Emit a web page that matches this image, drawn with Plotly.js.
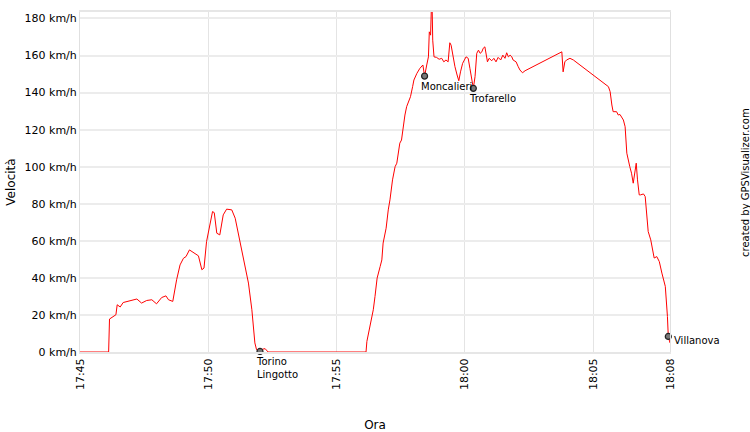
<!DOCTYPE html>
<html>
<head>
<meta charset="utf-8">
<script src="https://cdn.plot.ly/plotly-3.0.1.min.js"></script>
<style>html,body{margin:0;padding:0;background:#fff;}#chart{width:750px;height:432px;}</style>
</head>
<body>
<div id="chart"></div>
<script>
// Speed trace (time, km/h)
var times = [
"17:45:00","17:46:07","17:46:09","17:46:24","17:46:27","17:46:34","17:46:41","17:46:57","17:47:13","17:47:24",
"17:47:36","17:47:48","17:47:59","17:48:11","17:48:21","17:48:27","17:48:37","17:48:46","17:48:54","17:49:02",
"17:49:08","17:49:16","17:49:25","17:49:37","17:49:45","17:49:50","17:49:56","17:50:04","17:50:10","17:50:14",
"17:50:20","17:50:27","17:50:35","17:50:43","17:50:55","17:51:03","17:51:10","17:51:22","17:51:34","17:51:42",
"17:51:49","17:51:53","17:52:01","17:52:07","17:52:13","17:52:20","17:56:09","17:56:11","17:56:18","17:56:26",
"17:56:30","17:56:35","17:56:42","17:56:46","17:56:49","17:56:56","17:57:01","17:57:05","17:57:11","17:57:17",
"17:57:21","17:57:25","17:57:28","17:57:32","17:57:36","17:57:40","17:57:44","17:57:50","17:57:53","17:57:58",
"17:58:01","17:58:08","17:58:15","17:58:22","17:58:26","17:58:31","17:58:35","17:58:37","17:58:40","17:58:43",
"17:58:45","17:58:48","17:58:54","17:59:00","17:59:06","17:59:11","17:59:16","17:59:21","17:59:25","17:59:28",
"17:59:32","17:59:37","17:59:42","17:59:46","17:59:50","17:59:55","18:00:03","18:00:08","18:00:12","18:00:16",
"18:00:20","18:00:24","18:00:28","18:00:32","18:00:36","18:00:40","18:00:43","18:00:47","18:00:50","18:00:53",
"18:00:57","18:01:03","18:01:08","18:01:13","18:01:18","18:01:24","18:01:29","18:01:34","18:01:38","18:01:42",
"18:01:46","18:01:50","18:01:53","18:02:00","18:02:05","18:02:09","18:02:15","18:02:21","18:03:47","18:03:50",
"18:03:54","18:03:58","18:04:06","18:04:14","18:05:36","18:05:40","18:05:44","18:05:47","18:05:55","18:05:59",
"18:06:03","18:06:07","18:06:11","18:06:15","18:06:19","18:06:26","18:06:30","18:06:34","18:06:38","18:06:41",
"18:06:44","18:06:48","18:06:51","18:06:58","18:07:02","18:07:06","18:07:09","18:07:15","18:07:20","18:07:23",
"18:07:29","18:07:35","18:07:41","18:07:46","18:07:49","18:07:54","18:07:56","18:08:00"
];
var speeds = [
0,0,17.8,20.1,25.5,24.3,26.7,27.6,28.6,26.4,
27.8,28.2,26.0,29.4,30.3,28.2,27.3,39.0,47.0,50.6,
51.5,55.1,53.7,51.9,44.4,45.3,59.6,68.6,75.8,75.2,
64.1,63.2,74.0,77.1,76.7,72.2,64.1,49.7,37.2,22.8,
4.9,1.2,0.3,1.5,1.8,0,0,5.7,13.8,22.8,
30.0,39.9,46.1,49.7,58.8,66.8,76.7,82.1,92.9,100.0,
101.9,107.3,112.7,114.4,121.6,127.9,132.4,136.9,137.8,143.2,
146.8,150.4,153.1,154.9,148.9,154.9,159.3,172.8,171.0,195.0,
168.3,159.3,159.0,158.0,158.5,156.6,157.6,156.6,166.9,165.6,
160.3,154.0,149.5,146.4,151.2,155.8,159.3,158.5,153.1,146.8,
142.3,148.6,161.2,162.9,161.2,162.0,163.9,164.7,160.2,156.6,
158.5,157.2,158.5,156.6,159.0,157.6,160.2,158.5,161.5,159.3,
160.2,159.3,157.6,156.6,154.0,152.2,150.7,151.8,162.0,151.2,
156.6,157.6,158.5,157.6,143.2,140.5,133.3,129.7,129.7,127.9,
128.2,126.9,125.2,121.6,107.3,100.0,96.5,91.1,96.5,101.9,
92.9,84.8,84.8,85.3,83.9,71.3,65.0,60.5,55.1,50.7,
51.5,48.8,42.6,37.2,35.4,19.2,8.4,4.9
];
// Waypoints
var wpNames = ["Torino<br>Lingotto","Moncalieri","Trofarello","Villanova"];
var wpTimes = ["17:52:01","17:58:26","18:00:20","18:07:56"];
var wpSpeeds = [0.3,148.9,142.3,8.4];
// Axis ticks
var tickTimes = ["17:45","17:50","17:55","18:00","18:05","18:08"];
var yTicks = [0,20,40,60,80,100,120,140,160,180];

var day = "2024-01-01 ";
function d(t){ return day + (t.length === 5 ? t + ":00" : t); }

var font = "DejaVu Sans, Verdana, sans-serif";

var traces = [
  {x: times.map(d), y: speeds, type: "scatter", mode: "lines",
   line: {color: "#ff0000", width: 1}, hoverinfo: "skip", showlegend: false},
  {x: wpTimes.map(d), y: wpSpeeds, type: "scatter", mode: "markers",
   marker: {size: 6, color: "#777", line: {color: "#222", width: 1.2}},
   showlegend: false, cliponaxis: false}
];

var annotations = wpNames.map(function(n, i){
  var last = (i === wpNames.length - 1);
  return {x: d(wpTimes[i]), y: wpSpeeds[i], xref: "x", yref: "y", text: n, showarrow: false,
          xanchor: "left", yanchor: last ? "middle" : "top", align: "left",
          xshift: last ? 4 : -6, yshift: last ? -4 : -3,
          font: {family: font, size: 10, color: "#000"}};
});
annotations.push({text: "created by GPSVisualizer.com", xref: "paper", yref: "paper",
  x: 1.127, y: 0.5, textangle: -90, showarrow: false, xanchor: "center", yanchor: "middle",
  font: {family: font, size: 10, color: "#000"}});

var layout = {
  width: 750, height: 432,
  margin: {l: 80, r: 80, t: 12, b: 80, pad: 0},
  paper_bgcolor: "#fff", plot_bgcolor: "#fff",
  font: {family: font, size: 11, color: "#000"},
  showlegend: false,
  xaxis: {type: "date", range: [d("17:45"), d("18:08")],
    tickmode: "array", tickvals: tickTimes.map(d), ticktext: tickTimes,
    tickangle: -90, ticks: "", showgrid: true, gridcolor: "#e4e4e4", gridwidth: 1,
    showline: true, linecolor: "#e6e6e6", linewidth: 2, mirror: true, zeroline: false,
    tickfont: {family: font, size: 11, color: "#000"},
    title: {text: "Ora", font: {family: font, size: 12, color: "#000"}, standoff: 40}},
  yaxis: {range: [0, 183.5], tickmode: "array", tickvals: yTicks,
    ticktext: yTicks.map(function(v){ return v + " km/h"; }),
    ticks: "", showgrid: true, gridcolor: "#ececec", gridwidth: 2,
    showline: true, linecolor: "#e0e0e0", linewidth: 1, mirror: true, zeroline: false,
    tickfont: {family: font, size: 11, color: "#000"},
    title: {text: "Velocità", font: {family: font, size: 12, color: "#000"}, standoff: 6}},
  annotations: annotations
};

Plotly.newPlot("chart", traces, layout, {displayModeBar: false, staticPlot: true});
</script>
</body>
</html>
